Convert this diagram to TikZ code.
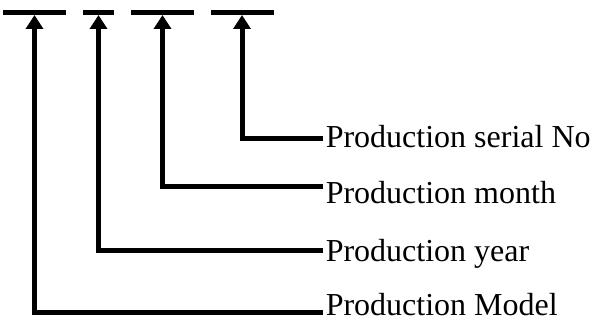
\documentclass[tikz,border=0pt]{standalone}
\usepackage{fontspec}
\setmainfont{Liberation Serif}
\usetikzlibrary{arrows.meta}
\tikzset{
  digitbar/.style={line width=3.75pt},
  conn/.style={line width=3.75pt, -{Triangle[length=10.5pt,width=12.75pt]}},
  lbl/.style={anchor=base west, inner sep=0pt, text depth=0pt, font=\fontsize{24}{28}\selectfont}
}
\begin{document}
\begin{tikzpicture}[x=0.75pt,y=-0.75pt]
    \useasboundingbox (0,0) rectangle (593,321);
    % code fields
    \draw[digitbar] (3,12.5) -- (66,12.5);
    \draw[digitbar] (83,12.5) -- (114,12.5);
    \draw[digitbar] (131,12.5) -- (194,12.5);
    \draw[digitbar] (211,12.5) -- (274,12.5);
    \coordinate (tipModel) at (34.5,15);
    \coordinate (tipYear) at (98.5,15);
    \coordinate (tipMonth) at (162.5,15);
    \coordinate (tipSerial) at (242,15);
    % labels
    \node[lbl] (serial) at (325.5,147) {Production serial No};
    \node[lbl] (month) at (325.5,203) {Production month};
    \node[lbl] (year) at (325.5,261) {Production year};
    \node[lbl] (model) at (325.5,315) {Production Model};
    \coordinate (serialEnd) at (323,139);
    \coordinate (monthEnd) at (323,186);
    \coordinate (yearEnd) at (323,250);
    \coordinate (modelEnd) at (323,312);
    \draw[conn] (serialEnd) -| (tipSerial);
    \draw[conn] (monthEnd) -| (tipMonth);
    \draw[conn] (yearEnd) -| (tipYear);
    \draw[conn] (modelEnd) -| (tipModel);
\end{tikzpicture}
\end{document}
